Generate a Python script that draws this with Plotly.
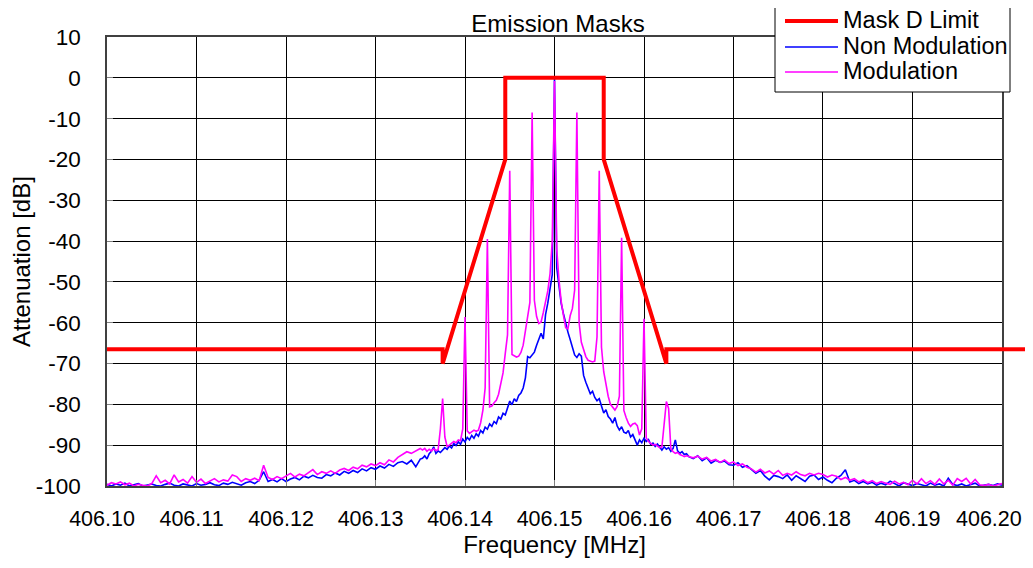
import numpy as np
import plotly.graph_objects as go

# ---------------- data ----------------
mask_freq = [406.10, 406.1375, 406.1375, 406.1445, 406.1445, 406.1555, 406.1555, 406.1625, 406.1625, 406.20]
mask_db = [-66.5, -66.5, -70, -20, 0, 0, -20, -70, -66.5, -66.5]

# sweep frequency grid (MHz): coarse outside, fine around the carrier
freq_left = np.round(np.arange(0, 71) * 0.0005 + 406.1000, 5)
freq_center = np.round(np.arange(0, 119) * 0.00025 + 406.13525, 5)
freq_right = np.round(np.arange(0, 71) * 0.0005 + 406.1650, 5)

nonmod_left = [
    -99.6, -100, -99.5, -99.8, -99.3, -100, -99.7, -99.4, -100, -99.8,
    -99.5, -99.9, -100, -99.6, -99.3, -99.8, -100, -99.5, -99.7, -100,
    -99.4, -99.8, -99.6, -99.2, -99.7, -99.9, -99.3, -99.6, -99.1, -99.5,
    -99.8, -99.2, -98.9, -99.4, -98.6, -96.5, -98.9, -98.4, -99, -98.2,
    -98.9, -98.3, -97.9, -98.5, -97.6, -98, -97.4, -97.9, -98.1, -97.2,
    -97.5, -96.8, -97.3, -96.4, -96.9, -96.2, -96.7, -95.8, -96.3, -95.5,
    -95.9, -95.1, -95.6, -94.7, -95.2, -94.3, -94, -94.6, -93.7, -95.3, -93.4,
]
nonmod_center = [
    -93.2, -92.6, -93.4, -92.1, -91.5, -90.4, -92, -91.4, -91.8, -91.2,
    -90.6, -91, -90.2, -90.7, -89.6, -90.1, -89.2, -89.8, -88.5, -89.2,
    -88.1, -88.7, -87.6, -88.3, -87.2, -87.8, -86.4, -87, -85.6, -86.1,
    -84.8, -85.4, -84.2, -84.7, -83.1, -83.6, -82.2, -82.6, -80.9, -79.2,
    -80.1, -78.6, -79.3, -77.8, -77.2, -76, -73.5, -68.3, -68.6, -68,
    -67.2, -65.5, -64.1, -62.6, -64, -58, -55.2, -51.3, -48.2, 0,
    -46.5, -51, -55.3, -57.8, -60.2, -62.3, -64.1, -65.8, -67.9, -68.5,
    -67.6, -68.2, -72.9, -74.6, -76, -77.4, -76.8, -78.3, -79.1, -78.6,
    -80.4, -82.1, -81.3, -83, -83.6, -84.6, -83.2, -85.3, -86.3, -85.5,
    -86.8, -87.1, -86.4, -88, -87.4, -88.9, -90, -88.7, -89.4, -88.3,
    -89.1, -88.6, -89.8, -89.5, -90.3, -89.7, -90.6, -91.2, -90.4, -91,
    -90.6, -91.5, -90.8, -88.7, -91.4, -92, -91.6, -92.3, -92.1,
]
nonmod_right = [
    -92.8, -93.3, -92.6, -93.8, -93.1, -94.4, -93.7, -94.2, -93.9, -94.8,
    -94.9, -94.3, -95.4, -95, -96, -96.9, -96.2, -97.6, -98.5, -97.4,
    -97.7, -98.2, -97.3, -98.6, -97.5, -98.1, -98.9, -97.6, -97.3, -98.4,
    -97.8, -98.6, -99.2, -98.1, -97.4, -96, -99, -98.6, -99.4, -98.9,
    -99.5, -99.1, -99.8, -99.3, -99.7, -98.8, -99.5, -100, -99.2, -99.6,
    -99.9, -99.4, -99.7, -100, -99.3, -99.8, -99.5, -100, -98.1, -99.6,
    -99.9, -99.5, -100, -99.7, -99.3, -100, -99.8, -99.6, -99.9, -99.5, -99.8,
]

mod_left = [
    -99.8, -99.2, -99.5, -99, -99.7, -99.3, -100, -99.6, -99.8, -100,
    -99.4, -97.5, -99.2, -98.6, -99.5, -97.3, -99, -98.4, -99.3, -97.7,
    -99.1, -98.3, -99.4, -98.7, -98.2, -99, -98.5, -98.8, -97.3, -97.7,
    -98.9, -98.2, -98.6, -98.1, -98.7, -94.9, -97.9, -98.4, -97.7, -98.2,
    -97.6, -96.9, -97.8, -97.1, -97.5, -96.8, -96, -97.2, -96.5, -96.9,
    -96.3, -96.9, -96.1, -95.7, -96.2, -95.4, -95.8, -94.9, -95.3, -94.6,
    -95, -94.3, -94.8, -93.6, -94.1, -93, -92.2, -91.6, -92, -91.3, -90.8,
]
mod_center = [
    -91.2, -90.8, -91.5, -91, -91.4, -90.9, -91.3, -91.1, -86, -78.6,
    -88, -90.3, -90, -89.6, -89.1, -89.4, -88.7, -88.9, -86, -58.6,
    -86.5, -87.1, -86.8, -86.3, -86.6, -86.3, -84.5, -81.4, -76, -39.5,
    -80.6, -80.4, -79.6, -79, -77.5, -74.5, -72.3, -67.5, -63, -22.8,
    -67.8, -68.1, -68.4, -68.2, -67.3, -65.5, -62.5, -58.5, -55, -8.5,
    -54.5, -58.5, -60.2, -59.8, -57.5, -54.8, -52.2, -48, -40, -0.8,
    -42, -49.5, -54.8, -58.2, -61.2, -61.5, -58.3, -56.5, -52, -8.5,
    -60, -64.8, -66.8, -68.3, -69.2, -69.5, -69.6, -69.4, -63.5, -22.8,
    -66, -72, -75.5, -78, -80, -80.8, -81.4, -80.5, -78, -39.2,
    -81.5, -83.2, -84.6, -85.4, -84.8, -84.6, -85.2, -87.5, -86, -59,
    -88.2, -89.1, -89.6, -90, -89.8, -90.2, -90.6, -90.4, -84, -79.3,
    -81, -90.8, -91.6, -92, -91.8, -92.3, -92.5, -92.8, -92.6,
]
mod_right = [
    -92.8, -93.1, -92.7, -93.4, -93, -93.9, -93.5, -94.2, -93.6, -94.5,
    -94.1, -95, -94.6, -95.4, -95.8, -96.6, -95.9, -96.8, -96.3, -97.1,
    -96.2, -97.4, -96.9, -97.3, -96.5, -97.2, -97.5, -96.9, -97.3, -96.9,
    -97.2, -97.8, -97.3, -97.6, -98.4, -97.9, -98.6, -98.2, -99, -98.5,
    -99.2, -98.7, -99.4, -98.9, -99.3, -99.6, -98.8, -99.5, -99.1, -99.7,
    -98.6, -99.5, -98.2, -99.4, -98.7, -99.6, -98.3, -99.5, -98.6, -99.8,
    -98.2, -98.9, -98.1, -99.5, -98.4, -99.7, -99.9, -99.6, -100, -99.7, -99.4,
]

x_ticks = [406.10, 406.11, 406.12, 406.13, 406.14, 406.15, 406.16, 406.17, 406.18, 406.19, 406.20]
y_ticks = [10, 0, -10, -20, -30, -40, -50, -60, -70, -80, -90, -100]
x_range = [406.10, 406.20]
y_range = [-100, 10]

series_names = ["Mask D Limit", "Non Modulation", "Modulation"]
series_colors = ["#FF0000", "#0000FF", "#FF00FF"]
series_widths = [4, 1.6, 1.6]

freq_all = np.concatenate([freq_left, freq_center, freq_right])
nonmod_all = nonmod_left + nonmod_center + nonmod_right
mod_all = mod_left + mod_center + mod_right

FONT = "Liberation Sans, Arial, sans-serif"
TICK_SIZE = 21.5

# The page body has an 8px margin, so the figure is sized/placed to compensate.
OFF = 8
W, H = 1033 - OFF, 568 - OFF
# plot area in screen pixels
SL, SR, ST, SB = 107, 1002, 37, 486
L, T = SL - OFF, ST - OFF
R, B = W - (SR - OFF), H - (SB - OFF)
PW, PH = W - L - R, H - T - B


def px(xs):
    return (xs - SL) / PW


def py(ys):
    return (SB - ys) / PH


fig = go.Figure()
fig.add_trace(go.Scatter(x=freq_all, y=nonmod_all, mode="lines", name=series_names[1],
                         line=dict(color=series_colors[1], width=series_widths[1])))
fig.add_trace(go.Scatter(x=freq_all, y=mod_all, mode="lines", name=series_names[2],
                         line=dict(color=series_colors[2], width=series_widths[2])))
fig.add_trace(go.Scatter(x=mask_freq, y=mask_db, mode="lines", name=series_names[0],
                         line=dict(color=series_colors[0], width=series_widths[0])))

# mask continues slightly past the right edge of the plot area
mask_end_paper = (mask_db[-1] - y_range[0]) / (y_range[1] - y_range[0])
fig.add_shape(type="line", xref="paper", yref="paper", x0=1.0, x1=px(1031),
              y0=mask_end_paper, y1=mask_end_paper, line=dict(color="#FF0000", width=4))
# outer chart frame
fig.add_shape(type="rect", xref="paper", yref="paper", x0=px(7), x1=px(1060),
              y0=py(620), y1=py(5), line=dict(color="black", width=1.5), layer="below")

# legend box (drawn to match the original compact layout)
fig.add_shape(type="rect", xref="paper", yref="paper", x0=px(775), x1=px(1010),
              y0=py(92), y1=py(6), line=dict(color="black", width=1), fillcolor="white",
              layer="above")
row_y = [20, 46, 71]
for name, color, width, ry in zip(series_names, series_colors, series_widths, row_y):
    fig.add_shape(type="line", xref="paper", yref="paper", x0=px(785), x1=px(838),
                  y0=py(ry + 1), y1=py(ry + 1), line=dict(color=color, width=width),
                  layer="above")
    fig.add_annotation(text=name, xref="paper", yref="paper", x=px(841), y=py(ry),
                       xanchor="left", yanchor="middle", showarrow=False,
                       font=dict(family=FONT, size=23.5, color="black"))

# last x tick label sits against the right edge of the chart so it stays whole
x_ticktext = [f"{v:.2f}" for v in x_ticks]
fig.add_annotation(text=x_ticktext[-1], xref="paper", yref="paper", x=px(1024), y=py(519),
                   xanchor="right", yanchor="middle", showarrow=False,
                   font=dict(family=FONT, size=TICK_SIZE, color="black"))
x_ticktext[-1] = ""

fig.update_layout(
    width=W, height=H,
    margin=dict(l=L, r=R, t=T, b=B),
    paper_bgcolor="white", plot_bgcolor="white",
    font=dict(family=FONT, size=22, color="black"),
    title=dict(text="Emission Masks", xref="container", yref="container",
               x=(558 - OFF) / W, xanchor="center", y=1 - (24 - OFF) / H, yanchor="middle",
               font=dict(family=FONT, size=24, color="black")),
    showlegend=False,
    xaxis=dict(range=[x_range[0] - 1e-6, x_range[1] + 1e-6], tickvals=x_ticks,
               ticktext=x_ticktext, ticklabeloverflow="allow",
               ticklabelshift=-5,
               showgrid=True, gridcolor="black", gridwidth=1,
               showline=True, linecolor="#404040", linewidth=1.5, mirror=True,
               ticks="inside", ticklen=6, tickcolor="#808080",
               zeroline=False, ticklabelstandoff=12, automargin=False,
               tickfont=dict(family=FONT, size=TICK_SIZE),
               title=dict(text="Frequency [MHz]", font=dict(family=FONT, size=24), standoff=7)),
    yaxis=dict(range=y_range, tickvals=y_ticks, ticktext=[str(v) for v in y_ticks],
               ticklabeloverflow="allow",
               showgrid=True, gridcolor="black", gridwidth=1,
               showline=True, linecolor="#404040", linewidth=1.5, mirror=True,
               ticks="inside", ticklen=6, tickcolor="#808080",
               zeroline=False, ticklabelstandoff=20, automargin=False,
               tickfont=dict(family=FONT, size=22.5),
               title=dict(text="Attenuation [dB]", font=dict(family=FONT, size=24), standoff=8)),
)

fig.write_html("out.html")
